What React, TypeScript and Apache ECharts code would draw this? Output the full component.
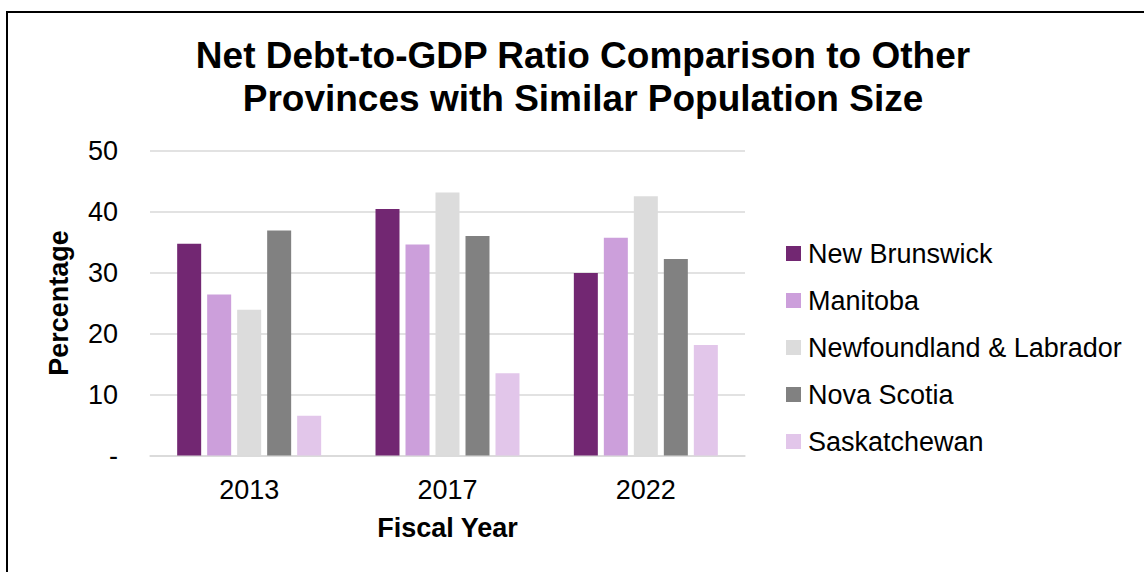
import React, { useEffect, useRef } from "react";
import * as echarts from "echarts";

const categories = ["2013", "2017", "2022"];
const seriesNames = ["New Brunswick", "Manitoba", "Newfoundland & Labrador", "Nova Scotia", "Saskatchewan"];
const newBrunswick = [34.7, 40.4, 29.9];
const manitoba = [26.4, 34.6, 35.7];
const newfoundland = [23.9, 43.1, 42.5];
const novaScotia = [36.9, 36.0, 32.2];
const saskatchewan = [6.5, 13.5, 18.1];
const seriesValues = [newBrunswick, manitoba, newfoundland, novaScotia, saskatchewan];
const colors = ["#722772", "#CC9FDB", "#DCDCDC", "#818181", "#E2C6EA"];

const FONT = "'Liberation Sans', Arial, sans-serif";

export default function App() {
  const ref = useRef<HTMLDivElement>(null);
  useEffect(() => {
    if (!ref.current) return;
    const chart = echarts.init(ref.current, null, { renderer: "svg" });
    chart.setOption({
      animation: false,
      backgroundColor: "#ffffff",
      title: {
        text: "Net Debt-to-GDP Ratio Comparison to Other\nProvinces with Similar Population Size",
        left: 578,
        textAlign: "center",
        top: 29,
        textStyle: {
          fontFamily: FONT,
          fontSize: 37,
          fontWeight: "bold",
          color: "#000000",
          lineHeight: 43,
        },
      },
      graphic: [
        {
          type: "rect",
          shape: { x: 7, y: 12, width: 1300, height: 800 },
          style: { fill: "none", stroke: "#000000", lineWidth: 2 },
          silent: true,
        },
      ],
      legend: {
        orient: "vertical",
        left: 781,
        top: 235,
        itemWidth: 15,
        itemHeight: 15,
        itemGap: 20,
        icon: "rect",
        textStyle: { fontFamily: FONT, fontSize: 27, color: "#000000", lineHeight: 27, padding: [0, 0, 0, 2] },
        data: seriesNames,
      },
      grid: { left: 150, right: 399, top: 150.5, bottom: 116.5, containLabel: false },
      xAxis: {
        type: "category",
        data: categories,
        axisTick: { show: false },
        axisLine: { lineStyle: { color: "#D9D9D9", width: 1.5 } },
        axisLabel: { fontFamily: FONT, fontSize: 27, color: "#000000", margin: 21 },
        name: "Fiscal Year",
        nameLocation: "middle",
        nameGap: 59,
        nameTextStyle: { fontFamily: FONT, fontSize: 27, fontWeight: "bold", color: "#000000" },
      },
      yAxis: {
        type: "value",
        min: 0,
        max: 50,
        interval: 10,
        axisLine: { show: false },
        axisTick: { show: false },
        splitLine: { lineStyle: { color: "#D9D9D9", width: 1.5 } },
        axisLabel: {
          fontFamily: FONT,
          fontSize: 27,
          color: "#000000",
          margin: 32,
          formatter: (v: number) => (v === 0 ? "-" : String(v)),
        },
        name: "Percentage",
        nameLocation: "middle",
        nameGap: 78,
        nameTextStyle: { fontFamily: FONT, fontSize: 27, fontWeight: "bold", color: "#000000" },
      },
      series: seriesNames.map((name, i) => ({
        name,
        type: "bar",
        data: seriesValues[i],
        barGap: "25%",
        barCategoryGap: "27.4%",
        itemStyle: { color: colors[i] },
      })),
    });
    return () => chart.dispose();
  }, []);
  return <div ref={ref} style={{ position: "fixed", left: 0, top: 0, width: 1144, height: 572 }} />;
}
